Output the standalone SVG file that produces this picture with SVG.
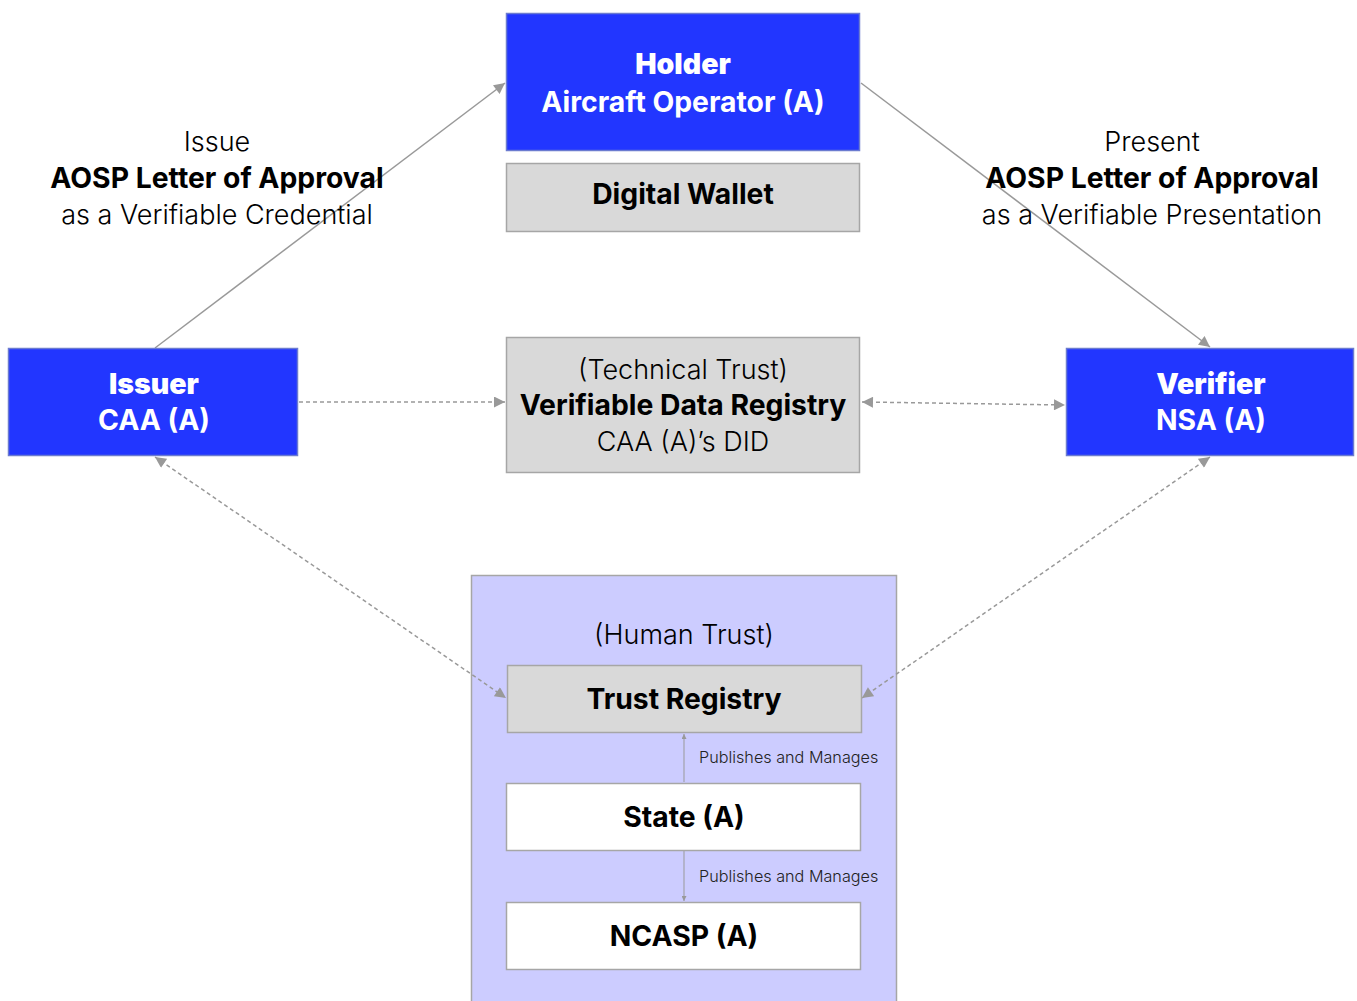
<svg xmlns="http://www.w3.org/2000/svg" width="1357" height="1001" viewBox="0 0 1357 1001">
<defs>
<style>
text{font-family:Inter,"Noto Sans","Liberation Sans",sans-serif;text-anchor:middle}
.blue{fill:#2236ff;stroke:#6b7bd0;stroke-width:1.5}
.grey{fill:#d9d9d9;stroke:#a6a6a6;stroke-width:1.5}
.white{fill:#ffffff;stroke:#a6a6a6;stroke-width:1.5}
.wt{fill:#ffffff;font-size:28.3px;font-weight:700}
.wh{fill:#ffffff;font-size:28.5px;font-weight:900}
.bt{fill:#000000;font-size:28.3px;font-weight:700}
.lt{fill:#000000;font-size:27px;font-weight:300}
.sm{fill:#222222;font-size:16.2px;font-weight:300;text-anchor:start}
.c{fill:none;stroke:#999999;stroke-width:1.5}
.d{stroke-dasharray:4 3}
</style>
<marker id="ah" viewBox="0 0 10 10" refX="10" refY="5" markerWidth="12" markerHeight="11" markerUnits="userSpaceOnUse" orient="auto-start-reverse"><path d="M0,0 L10,5 L0,10 z" fill="#999999"/></marker>
<marker id="as" viewBox="0 0 10 10" refX="10" refY="5" markerWidth="5" markerHeight="5" markerUnits="userSpaceOnUse" orient="auto-start-reverse"><path d="M0,0 L10,5 L0,10 z" fill="#999999"/></marker>
</defs>
<rect width="1357" height="1001" fill="#ffffff"/>
<g id="human-trust">
<rect x="471.5" y="575.5" width="425" height="430" fill="#ccccff" stroke="#a6a6a6" stroke-width="1.5"/>
<text class="lt" x="684" y="644">(Human Trust)</text>
</g>
<g id="connectors">
<line class="c" x1="155" y1="348" x2="505" y2="83" marker-end="url(#ah)"/>
<line class="c" x1="861" y1="83" x2="1210" y2="347" marker-end="url(#ah)"/>
<line class="c d" x1="299" y1="402" x2="505" y2="402" marker-end="url(#ah)"/>
<line class="c d" x1="862" y1="402" x2="1065" y2="405" marker-start="url(#ah)" marker-end="url(#ah)"/>
<line class="c d" x1="155" y1="457" x2="506" y2="698" marker-start="url(#ah)" marker-end="url(#ah)"/>
<line class="c d" x1="1210" y1="457" x2="862" y2="698" marker-start="url(#ah)" marker-end="url(#ah)"/>
<line class="c" style="stroke-width:1" x1="684" y1="782" x2="684" y2="734" marker-end="url(#as)"/>
<line class="c" style="stroke-width:1" x1="684" y1="851" x2="684" y2="901" marker-end="url(#as)"/>
<text class="sm" x="699" y="763">Publishes and Manages</text>
<text class="sm" x="699" y="882">Publishes and Manages</text>
</g>
<g id="issue-label">
<text class="lt" x="217" y="151">Issue</text>
<text class="bt" x="217" y="188">AOSP Letter of Approval</text>
<text class="lt" x="217" y="224">as a Verifiable Credential</text>
</g>
<g id="present-label">
<text class="lt" x="1152" y="151">Present</text>
<text class="bt" x="1152" y="188">AOSP Letter of Approval</text>
<text class="lt" x="1152" y="224">as a Verifiable Presentation</text>
</g>
<g id="holder">
<rect class="blue" x="506.5" y="13.5" width="353" height="137"/>
<text class="wh" x="683" y="74">Holder</text>
<text class="wt" x="683" y="112">Aircraft Operator (A)</text>
</g>
<g id="digital-wallet">
<rect class="grey" x="506.5" y="163.5" width="353" height="68"/>
<text class="bt" x="683" y="204">Digital Wallet</text>
</g>
<g id="issuer">
<rect class="blue" x="8.5" y="348.5" width="289" height="107"/>
<text class="wh" x="154" y="394">Issuer</text>
<text class="wt" x="154" y="430">CAA (A)</text>
</g>
<g id="verifier">
<rect class="blue" x="1066.5" y="348.5" width="287" height="107"/>
<text class="wh" x="1211" y="394">Verifier</text>
<text class="wt" x="1211" y="430">NSA (A)</text>
</g>
<g id="vdr">
<rect class="grey" x="506.5" y="337.5" width="353" height="135"/>
<text class="lt" x="683" y="379">(Technical Trust)</text>
<text class="bt" x="683" y="415">Verifiable Data Registry</text>
<text class="lt" x="683" y="451">CAA (A)’s DID</text>
</g>
<g id="trust-registry">
<rect class="grey" x="507.5" y="665.5" width="354" height="67"/>
<text class="bt" x="684" y="709">Trust Registry</text>
</g>
<g id="state">
<rect class="white" x="506.5" y="783.5" width="354" height="67"/>
<text class="bt" x="684" y="827">State (A)</text>
</g>
<g id="ncasp">
<rect class="white" x="506.5" y="902.5" width="354" height="67"/>
<text class="bt" x="684" y="946">NCASP (A)</text>
</g>
</svg>
